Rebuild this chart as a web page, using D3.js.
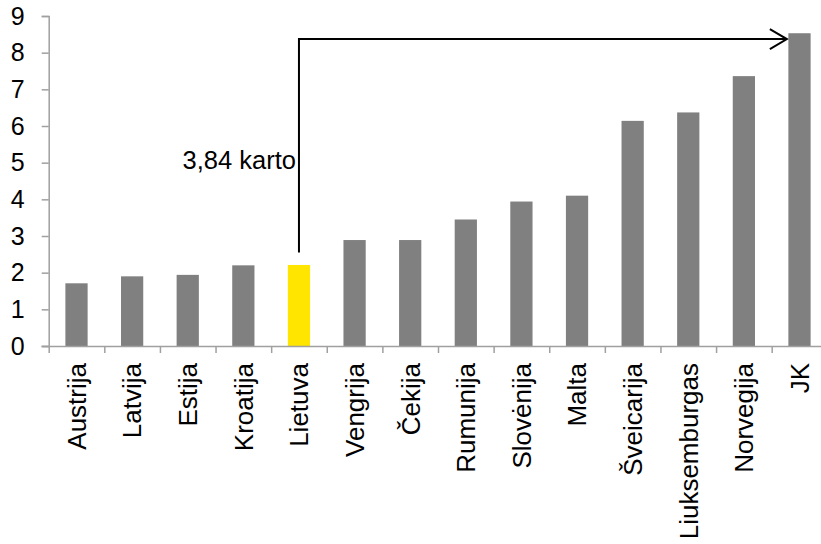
<!DOCTYPE html>
<html>
<head>
<meta charset="utf-8">
<script src="https://d3js.org/d3.v7.min.js"></script>
<style>
  body { margin: 0; background: #fff; }
  svg { display: block; font-family: "Liberation Sans", Arial, sans-serif; }
</style>
</head>
<body>
<svg id="chart" width="821" height="544"></svg>
<script>
// Data
const countries = ["Austrija", "Latvija", "Estija", "Kroatija", "Lietuva", "Vengrija", "Čekija",
  "Rumunija", "Slovėnija", "Malta", "Šveicarija", "Liuksemburgas", "Norvegija", "JK"];
const values = [1.71, 1.90, 1.94, 2.20, 2.21, 2.89, 2.89, 3.45, 3.94, 4.10, 6.14, 6.37, 7.36, 8.53];
const highlighted = ["Lietuva"];
const yTicks = [0, 1, 2, 3, 4, 5, 6, 7, 8, 9];

// annotation: arrow from Lietuva up and across to JK
const annotationText = "3,84 karto";
const arrowFrom = "Lietuva";
const arrowTo = "JK";
const arrowStartValue = 2.55;
const arrowLevel = 8.37;

const margin = { top: 16, left: 48.7 };
const plotW = 778.6, plotH = 330;

const svg = d3.select("#chart");
const g = svg.append("g").attr("transform", `translate(${margin.left},${margin.top})`);

const x = d3.scaleBand().domain(countries).range([0, plotW]).paddingInner(0.6).paddingOuter(0.3);
const xEdge = d3.scaleLinear().domain([0, countries.length]).range([0, plotW]);
const y = d3.scaleLinear().domain([0, 9]).range([plotH, 0]);

const axisColor = "#a0a0a0";

// bars
g.selectAll("rect.bar")
  .data(countries)
  .enter().append("rect")
  .attr("class", "bar")
  .attr("x", d => x(d))
  .attr("width", x.bandwidth())
  .attr("y", (d, i) => y(values[i]))
  .attr("height", (d, i) => plotH - y(values[i]))
  .attr("fill", d => highlighted.includes(d) ? "#ffe500" : "#808080");

// y axis
const yAxis = g.append("g")
  .call(d3.axisLeft(y).tickValues(yTicks).tickSize(7).tickPadding(17).tickFormat(d3.format("d")));
yAxis.select(".domain").attr("stroke", axisColor).attr("stroke-width", 1.5);
yAxis.selectAll(".tick line").attr("stroke", axisColor).attr("stroke-width", 1.5);
yAxis.selectAll("text").attr("font-size", 25).attr("fill", "#000")
  .attr("font-family", "'Liberation Sans', Arial, sans-serif");

// x axis boundary ticks
const xAxis = g.append("g")
  .attr("transform", `translate(0,${plotH})`)
  .call(d3.axisBottom(xEdge).tickValues(d3.range(0, countries.length + 1)).tickSize(7).tickFormat(""));
xAxis.select(".domain").attr("stroke", axisColor).attr("stroke-width", 1.5)
  .attr("d", `M-7,0.5H${plotW + 10}`);
xAxis.selectAll(".tick line").attr("stroke", axisColor).attr("stroke-width", 1.5);

// x labels
const xLabels = g.append("g")
  .attr("transform", `translate(0,${plotH})`)
  .call(d3.axisBottom(x).tickSize(0).tickPadding(0));
xLabels.select(".domain").remove();
xLabels.selectAll("text")
  .attr("font-size", 26)
  .attr("fill", "#000")
  .attr("font-family", "'Liberation Sans', Arial, sans-serif")
  .attr("text-anchor", "end")
  .attr("transform", "rotate(-90)")
  .attr("x", -17)
  .attr("y", 0)
  .attr("dy", "0.36em");

// annotation arrow
const ax0 = x(arrowFrom) + x.bandwidth() / 2;
const ax1 = x(arrowTo) - 1.5;
const ay = y(arrowLevel);
g.append("path")
  .attr("d", `M${ax0},${y(arrowStartValue)}V${ay}H${ax1}`)
  .attr("fill", "none")
  .attr("stroke", "#000")
  .attr("stroke-width", 2);
g.append("path")
  .attr("d", `M${ax1 - 17},${ay - 10}L${ax1},${ay}L${ax1 - 17},${ay + 10}`)
  .attr("fill", "none")
  .attr("stroke", "#000")
  .attr("stroke-width", 2);

g.append("text")
  .attr("x", ax0 - 3)
  .attr("y", y(5) + 6.5)
  .attr("text-anchor", "end")
  .attr("font-size", 25.5)
  .attr("fill", "#000")
  .text(annotationText);
</script>
</body>
</html>
